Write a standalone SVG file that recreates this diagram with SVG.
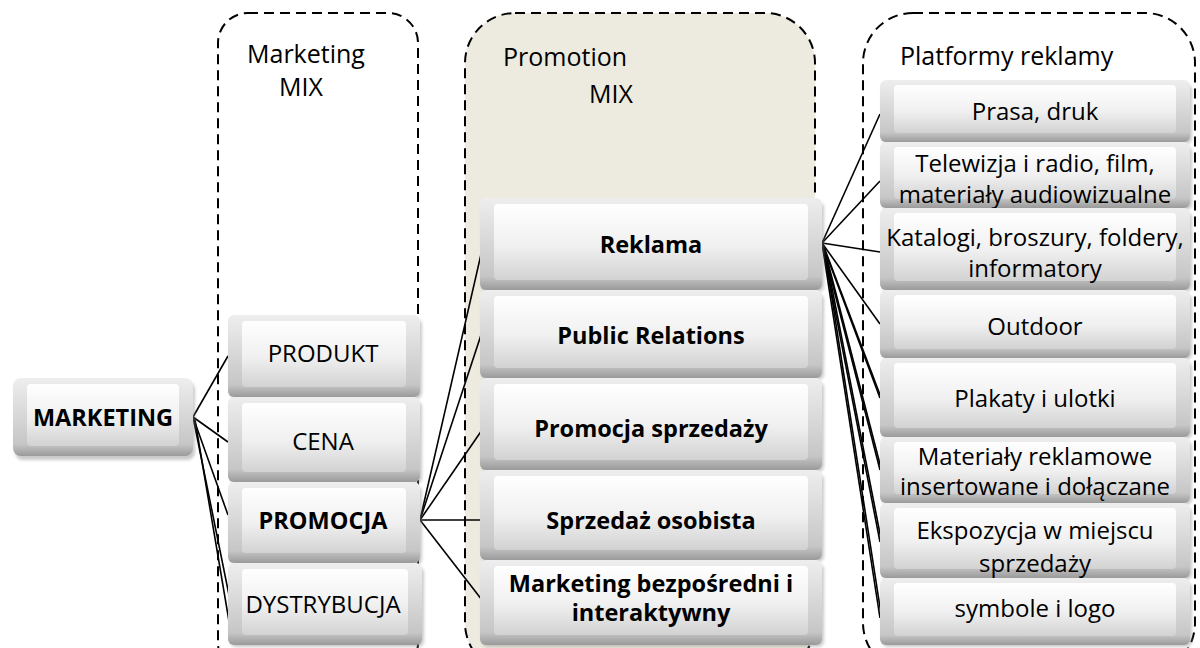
<svg xmlns="http://www.w3.org/2000/svg" width="1200" height="648" viewBox="0 0 1200 648">
  <defs>
    <linearGradient id="gOuter" x1="0" y1="0" x2="0" y2="1">
      <stop offset="0" stop-color="#eeeeee"/>
      <stop offset="0.85" stop-color="#c6c6c6"/>
      <stop offset="1" stop-color="#9a9a9a"/>
    </linearGradient>
    <linearGradient id="gInner" x1="0" y1="0" x2="0" y2="1">
      <stop offset="0" stop-color="#ffffff"/>
      <stop offset="0.55" stop-color="#f0f0f0"/>
      <stop offset="1" stop-color="#d2d2d2"/>
    </linearGradient>
    <filter id="soft" x="-5%" y="-10%" width="110%" height="130%">
      <feGaussianBlur stdDeviation="1.5"/>
    </filter>
  </defs>
  <style>
    .frame { fill: none; stroke: #000; stroke-width: 2; stroke-dasharray: 10 6; }
    .frame-fill { fill: #edeae0; stroke: #000; stroke-width: 2; stroke-dasharray: 10 6; }
    .shadow { fill: #8a8a8a; opacity: 0.45; filter: url(#soft); }
    .outer { fill: url(#gOuter); }
    .inner { fill: url(#gInner); }
    .t { font-family: "Open Sans", "Noto Sans", sans-serif; font-size: 24px; fill: #000; text-anchor: middle; }
    .b { font-weight: bold; font-size: 23.5px; }
    .hdr { font-family: "Open Sans", "Noto Sans", sans-serif; font-size: 25px; fill: #000; }
    .conn line { stroke: #000; stroke-width: 1.6; }
  </style>

  <rect width="1200" height="648" fill="#ffffff"/>

  <!-- dashed group frames -->
  <g id="frame-marketing-mix">
    <rect class="frame" x="218" y="13" width="200" height="660" rx="30" ry="30"/>
    <text class="hdr" x="247" y="63">Marketing</text>
    <text class="hdr" x="279" y="96">MIX</text>
  </g>
  <g id="frame-promotion-mix">
    <rect class="frame-fill" x="465" y="13" width="350" height="660" rx="50" ry="50"/>
    <text class="hdr" x="503" y="66">Promotion</text>
    <text class="hdr" x="589" y="103">MIX</text>
  </g>
  <g id="frame-platformy">
    <rect class="frame" x="863" y="13" width="332" height="660" rx="50" ry="50"/>
    <text class="hdr" x="900" y="65">Platformy reklamy</text>
  </g>

  <!-- connectors -->
  <g id="connectors" class="conn">
    <line x1="193" y1="417" x2="228" y2="356"/>
    <line x1="193" y1="417" x2="228" y2="442"/>
    <line x1="193" y1="417" x2="228" y2="515"/>
    <line x1="193" y1="417" x2="230" y2="600"/>
    <line x1="195" y1="420" x2="231" y2="633"/>

    <line x1="420" y1="520" x2="482" y2="250"/>
    <line x1="420" y1="520" x2="482" y2="332"/>
    <line x1="420" y1="520" x2="482" y2="430"/>
    <line x1="420" y1="520" x2="482" y2="520"/>
    <line x1="420" y1="520" x2="482" y2="600"/>

    <line x1="822" y1="243" x2="880" y2="114"/>
    <line x1="822" y1="243" x2="880" y2="181"/>
    <line x1="822" y1="243" x2="880" y2="252"/>
    <line x1="822" y1="243" x2="880" y2="324"/>
    <line x1="822" y1="243" x2="880" y2="398"/>
    <line x1="822" y1="243" x2="880" y2="470"/>
    <line x1="822" y1="243" x2="880" y2="542"/>
    <line x1="822" y1="243" x2="880" y2="618"/>
    <line x1="824" y1="247" x2="882" y2="400"/>
    <line x1="824" y1="247" x2="882" y2="472"/>
    <line x1="824" y1="247" x2="882" y2="544"/>
    <line x1="824" y1="247" x2="882" y2="620"/>
  </g>

  <!-- root node -->
  <g id="node-marketing">
    <rect class="shadow" x="15" y="382" width="180" height="78" rx="8"/>
    <rect class="outer" x="13" y="378" width="180" height="78" rx="8"/>
    <rect class="inner" x="27" y="384" width="152" height="62" rx="4"/>
    <text class="t b" x="103" y="426">MARKETING</text>
  </g>

  <!-- marketing mix -->
  <g id="node-produkt">
    <rect class="shadow" x="230" y="319" width="192" height="80" rx="6"/>
    <rect class="outer" x="228" y="315" width="192" height="82" rx="6"/>
    <rect class="inner" x="242" y="321" width="164" height="66" rx="4"/>
    <text class="t" x="323" y="362">PRODUKT</text>
  </g>
  <g id="node-cena">
    <rect class="shadow" x="230" y="401" width="192" height="83" rx="6"/>
    <rect class="outer" x="228" y="397" width="192" height="85" rx="6"/>
    <rect class="inner" x="242" y="403" width="164" height="69" rx="4"/>
    <text class="t" x="323" y="450">CENA</text>
  </g>
  <g id="node-promocja">
    <rect class="shadow" x="230" y="486" width="192" height="79" rx="6"/>
    <rect class="outer" x="228" y="482" width="192" height="81" rx="6"/>
    <rect class="inner" x="242" y="488" width="164" height="65" rx="4"/>
    <text class="t b" x="323" y="529">PROMOCJA</text>
  </g>
  <g id="node-dystrybucja">
    <rect class="shadow" x="230" y="567" width="194" height="80" rx="6"/>
    <rect class="outer" x="228" y="563" width="194" height="82" rx="6"/>
    <rect class="inner" x="242" y="569" width="166" height="66" rx="4"/>
    <text class="t" x="323" y="613">DYSTRYBUCJA</text>
  </g>

  <!-- promotion mix -->
  <g id="node-reklama">
    <rect class="shadow" x="482" y="202" width="342" height="90" rx="6"/>
    <rect class="outer" x="480" y="198" width="342" height="92" rx="6"/>
    <rect class="inner" x="494" y="204" width="314" height="76" rx="4"/>
    <text class="t b" x="651" y="253">Reklama</text>
  </g>
  <g id="node-public-relations">
    <rect class="shadow" x="482" y="294" width="342" height="86" rx="6"/>
    <rect class="outer" x="480" y="290" width="342" height="88" rx="6"/>
    <rect class="inner" x="494" y="296" width="314" height="72" rx="4"/>
    <text class="t b" x="651" y="344">Public Relations</text>
  </g>
  <g id="node-promocja-sprzedazy">
    <rect class="shadow" x="482" y="382" width="342" height="90" rx="6"/>
    <rect class="outer" x="480" y="378" width="342" height="92" rx="6"/>
    <rect class="inner" x="494" y="384" width="314" height="76" rx="4"/>
    <text class="t b" x="651" y="437">Promocja sprzedaży</text>
  </g>
  <g id="node-sprzedaz-osobista">
    <rect class="shadow" x="482" y="474" width="342" height="88" rx="6"/>
    <rect class="outer" x="480" y="470" width="342" height="90" rx="6"/>
    <rect class="inner" x="494" y="476" width="314" height="74" rx="4"/>
    <text class="t b" x="651" y="529">Sprzedaż osobista</text>
  </g>
  <g id="node-marketing-bezposredni">
    <rect class="shadow" x="482" y="564" width="342" height="83" rx="6"/>
    <rect class="outer" x="480" y="560" width="342" height="85" rx="6"/>
    <rect class="inner" x="494" y="566" width="314" height="69" rx="4"/>
    <text class="t b" x="651" y="592">Marketing bezpośredni i</text>
    <text class="t b" x="651" y="621">interaktywny</text>
  </g>

  <!-- advertising platforms -->
  <g id="node-prasa">
    <rect class="shadow" x="882" y="84" width="310" height="60" rx="6"/>
    <rect class="outer" x="880" y="80" width="310" height="62" rx="6"/>
    <rect class="inner" x="894" y="85" width="282" height="48" rx="4"/>
    <text class="t" x="1035" y="120">Prasa, druk</text>
  </g>
  <g id="node-telewizja">
    <rect class="shadow" x="882" y="146" width="310" height="64" rx="6"/>
    <rect class="outer" x="880" y="142" width="310" height="66" rx="6"/>
    <rect class="inner" x="894" y="147" width="282" height="52" rx="4"/>
    <text class="t" x="1035" y="172">Telewizja i radio, film,</text>
    <text class="t" x="1035" y="203">materiały audiowizualne</text>
  </g>
  <g id="node-katalogi">
    <rect class="shadow" x="882" y="212" width="310" height="80" rx="6"/>
    <rect class="outer" x="880" y="208" width="310" height="82" rx="6"/>
    <rect class="inner" x="894" y="213" width="282" height="68" rx="4"/>
    <text class="t" x="1035" y="246">Katalogi, broszury, foldery,</text>
    <text class="t" x="1035" y="277">informatory</text>
  </g>
  <g id="node-outdoor">
    <rect class="shadow" x="882" y="294" width="310" height="66" rx="6"/>
    <rect class="outer" x="880" y="290" width="310" height="68" rx="6"/>
    <rect class="inner" x="894" y="295" width="282" height="54" rx="4"/>
    <text class="t" x="1035" y="335">Outdoor</text>
  </g>
  <g id="node-plakaty">
    <rect class="shadow" x="882" y="362" width="310" height="77" rx="6"/>
    <rect class="outer" x="880" y="358" width="310" height="79" rx="6"/>
    <rect class="inner" x="894" y="363" width="282" height="65" rx="4"/>
    <text class="t" x="1035" y="407">Plakaty i ulotki</text>
  </g>
  <g id="node-materialy">
    <rect class="shadow" x="882" y="441" width="310" height="64" rx="6"/>
    <rect class="outer" x="880" y="437" width="310" height="66" rx="6"/>
    <rect class="inner" x="894" y="442" width="282" height="52" rx="4"/>
    <text class="t" x="1035" y="465">Materiały reklamowe</text>
    <text class="t" x="1035" y="495">insertowane i dołączane</text>
  </g>
  <g id="node-ekspozycja">
    <rect class="shadow" x="882" y="507" width="310" height="73" rx="6"/>
    <rect class="outer" x="880" y="503" width="310" height="75" rx="6"/>
    <rect class="inner" x="894" y="508" width="282" height="61" rx="4"/>
    <text class="t" x="1035" y="539">Ekspozycja w miejscu</text>
    <text class="t" x="1035" y="572">sprzedaży</text>
  </g>
  <g id="node-symbole">
    <rect class="shadow" x="882" y="582" width="310" height="65" rx="6"/>
    <rect class="outer" x="880" y="578" width="310" height="67" rx="6"/>
    <rect class="inner" x="894" y="583" width="282" height="53" rx="4"/>
    <text class="t" x="1035" y="617">symbole i logo</text>
  </g>
</svg>
